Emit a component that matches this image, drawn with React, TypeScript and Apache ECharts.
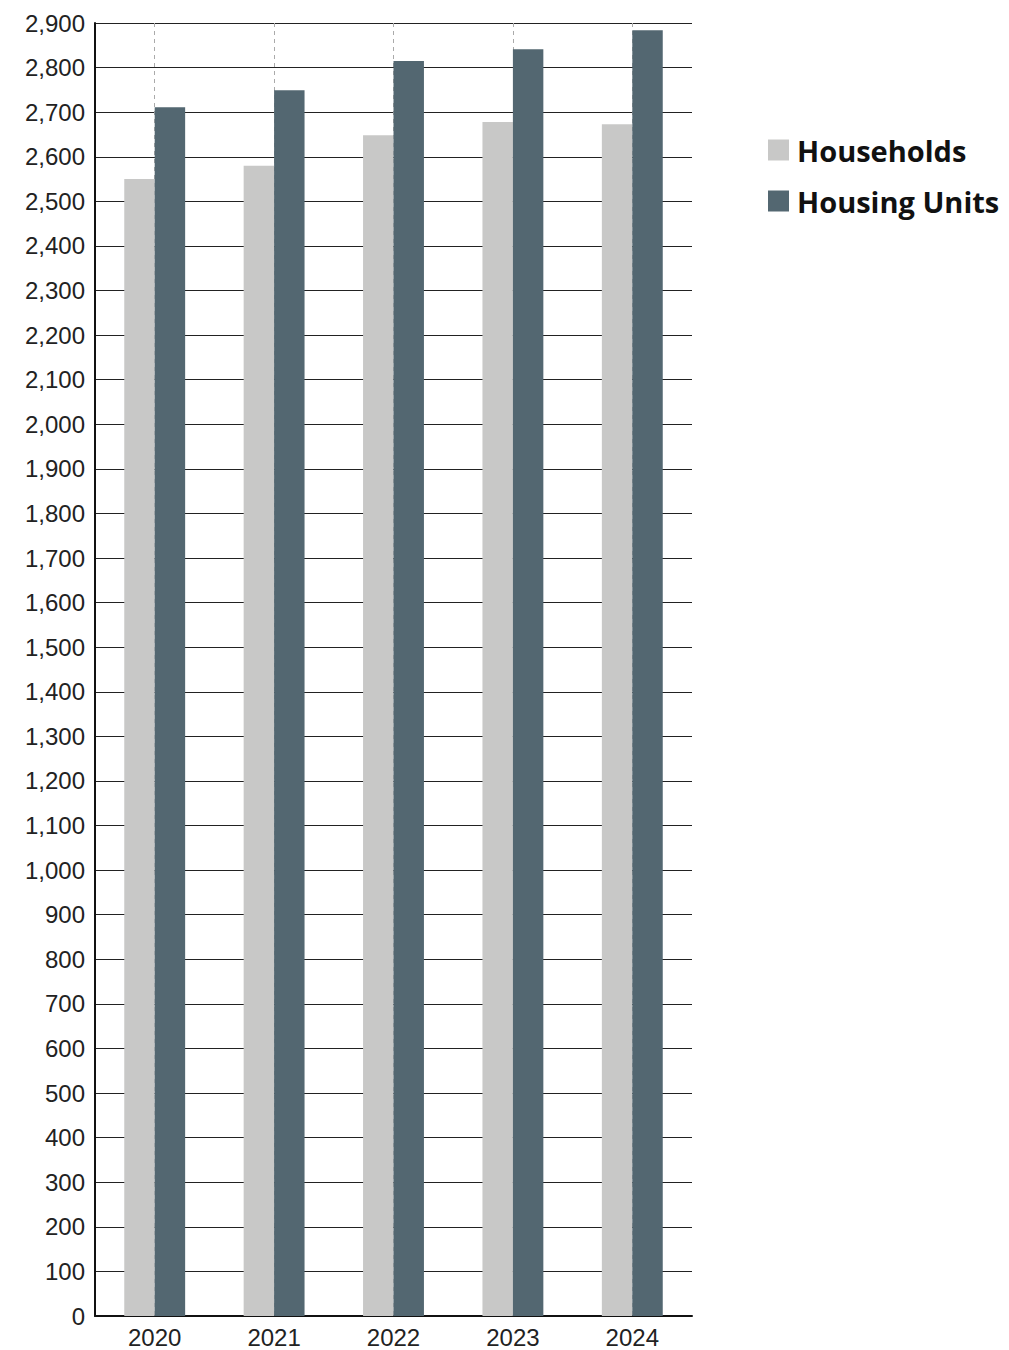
import React, { useEffect, useRef } from "react";
import * as echarts from "echarts";

const categories = ["2020", "2021", "2022", "2023", "2024"];
const households = [2550, 2580, 2648, 2678, 2673];
const housingUnits = [2711, 2749, 2815, 2841, 2884];
const seriesNames = ["Households", "Housing Units"];

export default function App() {
  const ref = useRef<HTMLDivElement>(null);
  useEffect(() => {
    document.body.style.margin = "0";
    const chart = echarts.init(ref.current!, null, { renderer: "svg" });
    chart.setOption({
      animation: false,
      grid: { left: 95, right: 317, top: 23, height: 1293 },
      legend: {
        orient: "vertical",
        left: 768,
        top: 135,
        padding: 0,
        icon: "rect",
        itemWidth: 21,
        itemHeight: 21,
        itemGap: 21,
        data: seriesNames,
        textStyle: {
          fontFamily: "Open Sans",
          fontWeight: "bold",
          fontSize: 29,
          lineHeight: 30,
          color: "#111",
          padding: [0, 0, 0, 3],
        },
      },
      xAxis: {
        type: "category",
        data: categories,
        axisLine: { lineStyle: { color: "#111", width: 2 } },
        axisTick: { show: false },
        axisLabel: {
          fontFamily: "Liberation Sans",
          fontSize: 24,
          color: "#222",
          margin: 9,
        },
        splitLine: {
          show: true,
          alignWithLabel: true,
          lineStyle: { color: "#aaa", type: [4, 4], width: 1 },
        },
      },
      yAxis: {
        type: "value",
        min: 0,
        max: 2900,
        interval: 100,
        axisLine: { show: true, lineStyle: { color: "#111", width: 2 } },
        axisTick: { show: false },
        axisLabel: {
          fontFamily: "Liberation Sans",
          fontSize: 24,
          color: "#222",
          margin: 10,
          formatter: (v: number) => v.toLocaleString("en-US"),
        },
        splitLine: { show: true, lineStyle: { color: "#222", width: 1 } },
      },
      series: [
        {
          name: seriesNames[0],
          type: "bar",
          data: households,
          barGap: "0%",
          barCategoryGap: "49%",
          itemStyle: { color: "#c8c8c7" },
        },
        {
          name: seriesNames[1],
          type: "bar",
          data: housingUnits,
          itemStyle: { color: "#536771" },
        },
      ],
    });
    return () => chart.dispose();
  }, []);
  return (
    <div
      ref={ref}
      style={{ position: "absolute", left: 0, top: 0, width: 1009, height: 1350 }}
    />
  );
}
